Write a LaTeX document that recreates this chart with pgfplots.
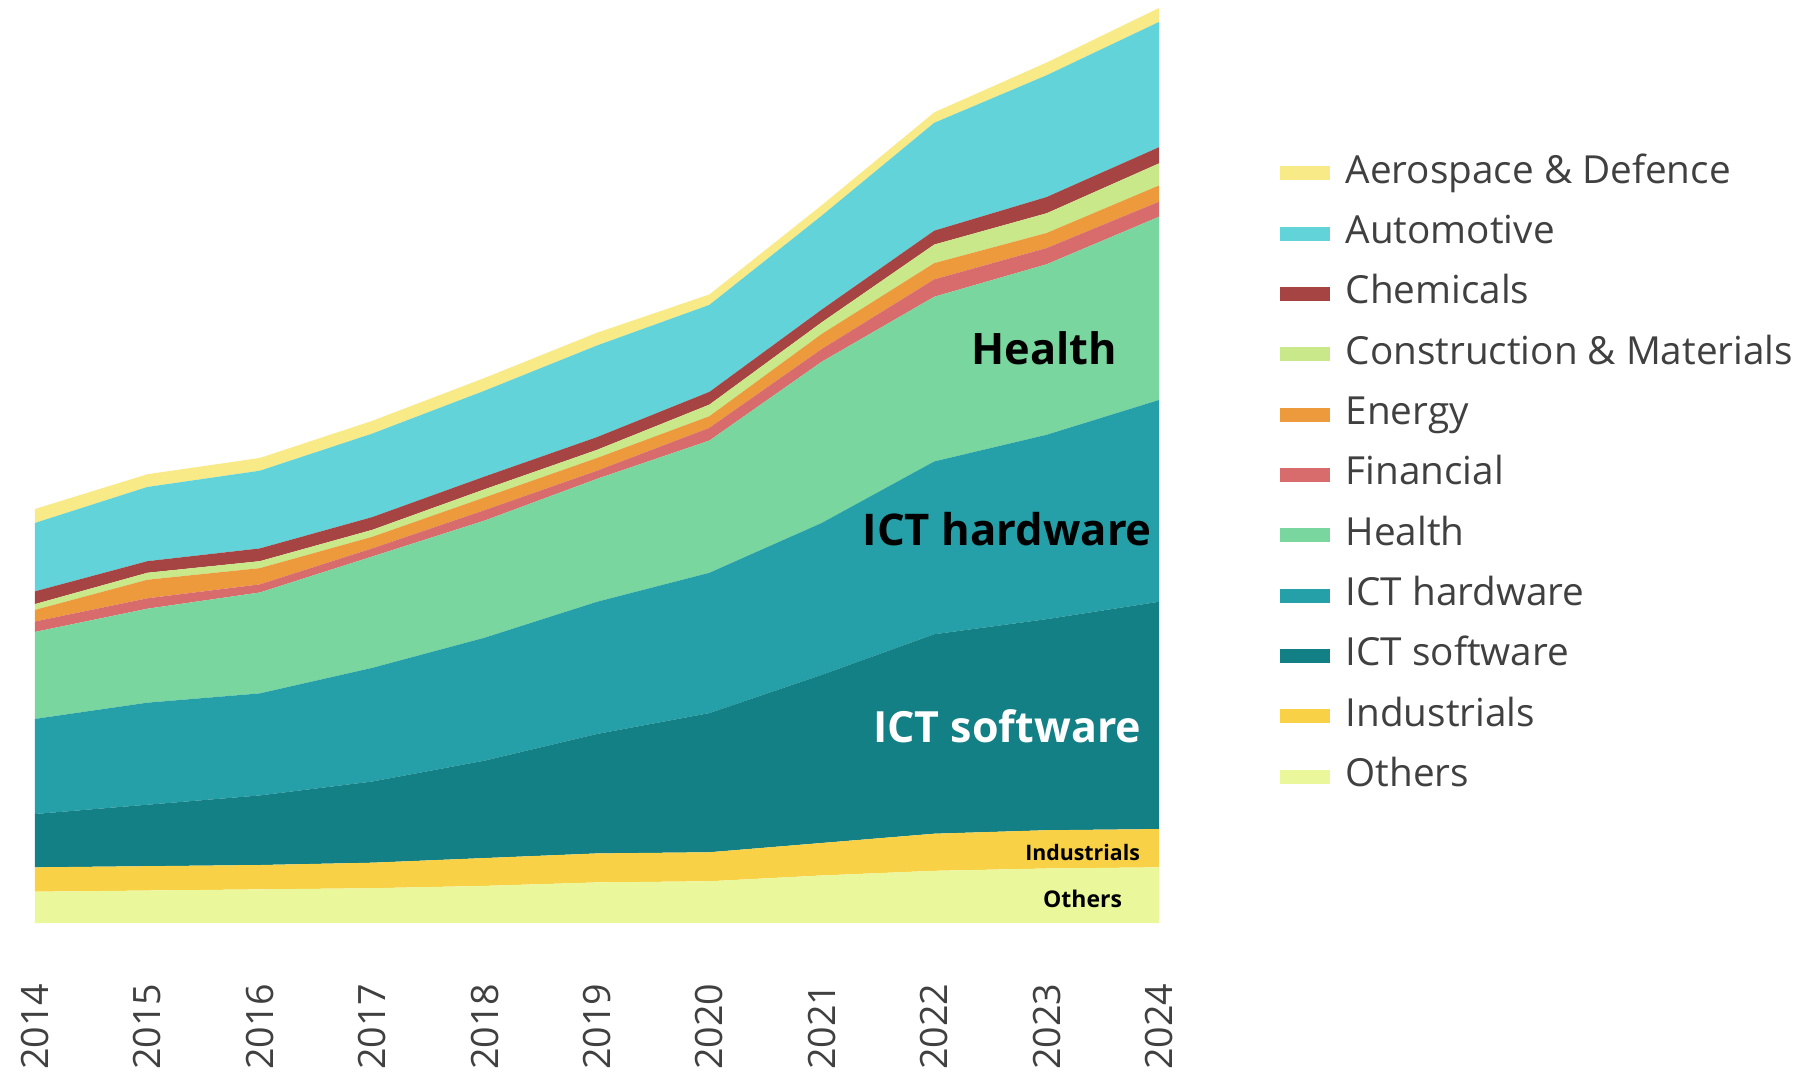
\documentclass[border=0pt]{standalone}
\usepackage{fontspec}
\setmainfont{Open Sans}
\usepackage{pgfplots}
\pgfplotsset{compat=1.18}
\definecolor{cAero}{HTML}{F8EA86}
\definecolor{cAuto}{HTML}{63D3DA}
\definecolor{cChem}{HTML}{A64444}
\definecolor{cCons}{HTML}{C9E88A}
\definecolor{cEner}{HTML}{EC9A3C}
\definecolor{cFin}{HTML}{D86C6C}
\definecolor{cHealth}{HTML}{79D69E}
\definecolor{cHW}{HTML}{25A0A8}
\definecolor{cSW}{HTML}{138085}
\definecolor{cInd}{HTML}{F8D147}
\definecolor{cOth}{HTML}{EAF79A}
\definecolor{textgray}{HTML}{404040}
\begin{document}
\begin{tikzpicture}
\useasboundingbox (0,0) rectangle (545.4pt,321.3pt);
\begin{axis}[
  at={(10.5pt,44.4pt)}, anchor=south west,
  scale only axis, width=337.2pt, height=274.5pt,
  xmin=2014, xmax=2024, ymin=0, ymax=789,
  stack plots=y, area style,
  axis line style={draw=none},
  ytick=\empty,
  xtick={2014,2015,2016,2017,2018,2019,2020,2021,2022,2023,2024},
  xticklabels={2014,2015,2016,2017,2018,2019,2020,2021,2022,2023,2024},
  major tick length=0pt,
  xticklabel style={rotate=90, anchor=east, inner sep=0pt, font=\fontsize{11.3}{13}\selectfont, text=textgray},
  xticklabel shift=18pt,
  /pgf/number format/assume math mode=true,
  reverse legend,
  legend cell align=left,
  legend image code/.code={\fill[#1] (0pt,-2.1pt) rectangle (15pt,2.1pt);},
  legend style={at={(1.1068,0.840)}, anchor=north west, draw=none, fill=none,
    inner sep=0pt, font=\fontsize{11.6}{13}\selectfont, text=textgray,
    row sep=7.1pt,
    nodes={inner sep=0pt, text height=8.4pt, text depth=2.6pt},
    /tikz/every odd column/.append style={column sep=4.8pt}},
  after end axis/.code={
    \node[font=\bfseries\fontsize{13}{15}\selectfont, text=black] at (axis cs:2022.98,496) {Health};
    \node[font=\bfseries\fontsize{13.1}{15}\selectfont, text=black] at (axis cs:2022.65,340) {ICT hardware};
    \node[font=\bfseries\fontsize{12.9}{15}\selectfont, text=white] at (axis cs:2022.65,170) {ICT software};
    \node[font=\bfseries\fontsize{6.4}{8}\selectfont, text=black] at (axis cs:2023.32,61) {Industrials};
    \node[font=\bfseries\fontsize{6.9}{8}\selectfont, text=black] at (axis cs:2023.32,21) {Others};
  },
]
\addplot[fill=cOth, draw=none] coordinates {(2014,27)(2015,28)(2016,29)(2017,30)(2018,32)(2019,35)(2020,36)(2021,41)(2022,45)(2023,47)(2024,48)} \closedcycle;
\addlegendentry{Others}
\addplot[fill=cInd, draw=none] coordinates {(2014,21)(2015,21)(2016,21)(2017,22)(2018,24)(2019,25)(2020,25)(2021,28)(2022,32)(2023,33)(2024,33)} \closedcycle;
\addlegendentry{Industrials}
\addplot[fill=cSW, draw=none] coordinates {(2014,46)(2015,53)(2016,60)(2017,70)(2018,84)(2019,103)(2020,120)(2021,145)(2022,172)(2023,182)(2024,196)} \closedcycle;
\addlegendentry{ICT software}
\addplot[fill=cHW, draw=none] coordinates {(2014,82)(2015,88)(2016,88)(2017,98)(2018,106)(2019,114)(2020,121)(2021,131)(2022,149)(2023,159)(2024,174)} \closedcycle;
\addlegendentry{ICT hardware}
\addplot[fill=cHealth, draw=none] coordinates {(2014,75)(2015,81)(2016,87)(2017,96)(2018,101)(2019,106)(2020,114)(2021,139)(2022,142)(2023,147)(2024,158)} \closedcycle;
\addlegendentry{Health}
\addplot[fill=cFin, draw=none] coordinates {(2014,9)(2015,9)(2016,7)(2017,7)(2018,9)(2019,7)(2020,11)(2021,11)(2022,15)(2023,14)(2024,13)} \closedcycle;
\addlegendentry{Financial}
\addplot[fill=cEner, draw=none] coordinates {(2014,10)(2015,16)(2016,14)(2017,10)(2018,11)(2019,11)(2020,10)(2021,13)(2022,14)(2023,13)(2024,14)} \closedcycle;
\addlegendentry{Energy}
\addplot[fill=cCons, draw=none] coordinates {(2014,5)(2015,6)(2016,6)(2017,6)(2018,7)(2019,7)(2020,10)(2021,10)(2022,16)(2023,17)(2024,19)} \closedcycle;
\addlegendentry{Construction \& Materials}
\addplot[fill=cChem, draw=none] coordinates {(2014,11)(2015,10)(2016,11)(2017,11)(2018,11)(2019,11)(2020,11)(2021,11)(2022,12)(2023,14)(2024,14)} \closedcycle;
\addlegendentry{Chemicals}
\addplot[fill=cAuto, draw=none] coordinates {(2014,59)(2015,64)(2016,67)(2017,72)(2018,74)(2019,79)(2020,75)(2021,81)(2022,93)(2023,105)(2024,108)} \closedcycle;
\addlegendentry{Automotive}
\addplot[fill=cAero, draw=none] coordinates {(2014,12)(2015,11)(2016,11)(2017,11)(2018,11)(2019,11)(2020,9)(2021,9)(2022,9)(2023,11)(2024,12)} \closedcycle;
\addlegendentry{Aerospace \& Defence}
\end{axis}
\end{tikzpicture}
\end{document}
